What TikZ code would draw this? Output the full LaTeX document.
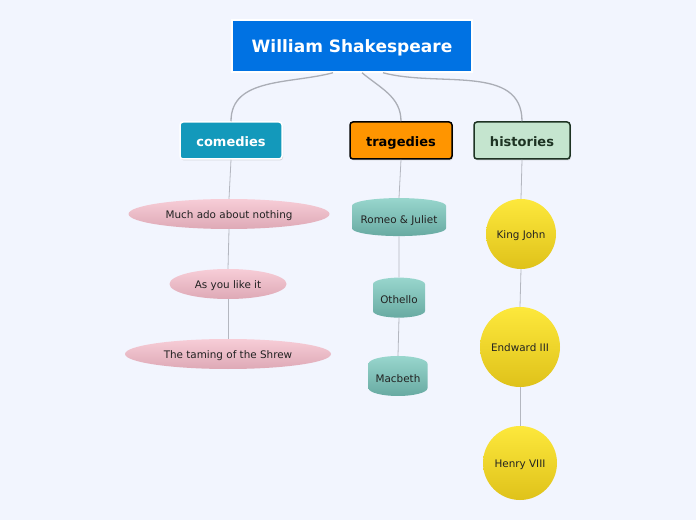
\documentclass[tikz,border=0pt]{standalone}
\usepackage{fontspec}
\setmainfont{DejaVu Sans}
\usepackage{xcolor}
\usepackage{tikz}
\usetikzlibrary{positioning}
\usetikzlibrary{shapes.geometric}
\usetikzlibrary{shadows}

\definecolor{bgblue}{HTML}{F2F5FE}
\definecolor{rootblue}{HTML}{0072E3}
\definecolor{comteal}{HTML}{1399BB}
\definecolor{tragorange}{HTML}{FF9500}
\definecolor{histgreen}{HTML}{C5E5CF}
\definecolor{histdark}{HTML}{1E3323}
\definecolor{linkgray}{HTML}{B4B7C0}
\definecolor{pinktop}{HTML}{F7CDD7}
\definecolor{pinkbot}{HTML}{DEA9B6}
\definecolor{tealtop}{HTML}{98D6CD}
\definecolor{tealbot}{HTML}{68AAA2}
\definecolor{yeltop}{HTML}{FDE83C}
\definecolor{yelbot}{HTML}{DFC21A}
\definecolor{txtdark}{HTML}{222222}

\begin{document}
\begin{tikzpicture}[
  x=1pt, y=1pt,
  topic/.style={
    rectangle,
    rounded corners=3pt,
    minimum height=37pt,
    text height=13pt,
    text depth=0pt,
    line width=1.5pt,
    font=\fontsize{13}{15}\selectfont\bfseries,
    drop shadow={opacity=0.25, shadow xshift=1pt, shadow yshift=-1.5pt}
  },
  leaf/.style={
    text=txtdark,
    text height=10pt,
    text depth=1pt,
    font=\fontsize{10.4}{12}\selectfont
  },
  comedy/.style={
    leaf,
    ellipse,
    inner sep=0pt,
    minimum height=30pt,
    top color=pinktop,
    bottom color=pinkbot
  },
  tragedy/.style={
    leaf,
    text height=6pt,
    text depth=1pt,
    cylinder,
    shape border rotate=90,
    aspect=0.35,
    inner sep=0pt,
    minimum height=40pt,
    top color=tealtop,
    bottom color=tealbot
  },
  history/.style={
    leaf,
    circle,
    inner sep=0pt,
    top color=yeltop,
    bottom color=yelbot
  },
  mainlink/.style={line width=1.3pt, linkgray!95!black},
  sublink/.style={line width=0.8pt, linkgray}
]
\fill[bgblue] (0,0) rectangle (696,520);
\useasboundingbox (0,0) rectangle (696,520);

% central topic
\node[rectangle, draw=white, line width=1.5pt, fill=rootblue,
      minimum width=240pt, minimum height=52pt, text=white,
      text height=14pt, text depth=1pt,
      font=\fontsize{17}{20}\selectfont\bfseries,
      drop shadow={opacity=0.2, shadow xshift=1pt, shadow yshift=-1.5pt}]
      (root) at (352,474) {William Shakespeare};

% main topics
\node[topic, draw=white, fill=comteal, text=white, minimum width=102pt]
      (com)  at (231,379.5) {comedies};
\node[topic, draw=black, fill=tragorange, text=black, minimum width=102pt]
      (trag) at (401,379.5) {tragedies};
\node[topic, draw=histdark, fill=histgreen, text=histdark, minimum width=96pt]
      (hist) at (522,379.5) {histories};

\draw[mainlink] ([xshift=-19pt]root.south) to[out=195, in=90] (com.north);
\draw[mainlink] ([xshift=10pt]root.south)  to[out=-40, in=90] (trag.north);
\draw[mainlink] ([xshift=31pt]root.south)  to[out=-15, in=90] (hist.north);

% comedies
\node[comedy, minimum width=201pt] (much)  at (229,306) {Much ado about nothing};
\node[comedy, minimum width=117pt] (asyou) at (228,236) {As you like it};
\node[comedy, minimum width=206pt] (shrew) at (228,166) {The taming of the Shrew};
\draw[sublink] (com.south) -- (much.north);
\draw[sublink] (much.south) -- (asyou.north);
\draw[sublink] (asyou.south) -- (shrew.north);

% tragedies
\node[tragedy, aspect=0.2, minimum height=38pt, minimum width=94pt]
      (romeo)   at (399,299) {Romeo \& Juliet};
\node[tragedy, minimum width=52pt] (othello) at (399,219) {Othello};
\node[tragedy, minimum width=59pt] (macbeth) at (398,140) {Macbeth};
\draw[sublink] (trag.south) -- (romeo.north);
\draw[sublink] (romeo.south) -- (othello.north);
\draw[sublink] (othello.south) -- (macbeth.north);

% histories
\node[history, minimum size=70pt] (john)   at (521,286) {King John};
\node[history, minimum size=80pt] (edward) at (520,173) {Endward III};
\node[history, minimum size=74pt] (henry)  at (520,57)  {Henry VIII};
\draw[sublink] (hist.south) -- (john.north);
\draw[sublink] (john.south) -- (edward.north);
\draw[sublink] (edward.south) -- (henry.north);
\end{tikzpicture}
\end{document}
